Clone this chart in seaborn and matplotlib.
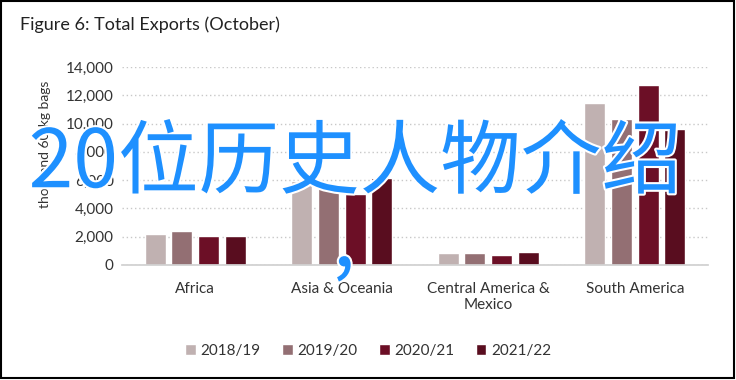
import pandas as pd
import matplotlib
matplotlib.use("Agg")
import matplotlib.pyplot as plt
import matplotlib.patheffects as pe
from matplotlib.patches import Rectangle
from matplotlib.ticker import FuncFormatter
import seaborn as sns

# data
regions = ['Africa', 'Asia & Oceania', 'Central America &\nMexico', 'South America']
seasons = ['2018/19', '2019/20', '2020/21', '2021/22']
v_2018_19 = [2200, 5950, 830, 11450]
v_2019_20 = [2400, 5500, 830, 10350]
v_2020_21 = [2050, 5050, 740, 12700]
v_2021_22 = [2050, 6150, 950, 9600]
colours = ['#c0b1b1', '#936f73', '#6c0f26', '#590d1f']

df = pd.DataFrame({
    'region': regions * 4,
    'season': [s for s in seasons for _ in regions],
    'value': v_2018_19 + v_2019_20 + v_2020_21 + v_2021_22,
})

sns.set_theme(style='white')
plt.rcParams['font.family'] = ['Lato', 'DejaVu Sans']

fig = plt.figure(figsize=(7.36, 3.80), dpi=100)
ax = fig.add_axes([122 / 736, 1 - 265 / 380, (708 - 122) / 736, (265 - 67) / 380])

sns.barplot(data=df, x='region', y='value', hue='season', palette=colours,
            width=0.73, gap=0.22, saturation=1, ax=ax, legend=True)

ax.set_ylim(0, 14000)
ax.set_yticks(range(0, 14001, 2000))
ax.yaxis.set_major_formatter(FuncFormatter(lambda v, p: f'{int(v):,}'))
ax.grid(axis='y', color='#c8c8c8', linestyle=(0, (1, 2)), linewidth=1)
ax.set_axisbelow(True)
for s in ['top', 'right', 'left']:
    ax.spines[s].set_visible(False)
ax.spines['bottom'].set_color('#d0d0d0')
ax.tick_params(axis='both', length=0, labelsize=11, colors='#333333', pad=6)
ax.tick_params(axis='x', pad=12)
ax.set_xlabel('')
ax.set_ylabel('')
fig.text(45 / 736, 1 - 144 / 380, 'thousand 60-kg bags', rotation=90,
         ha='center', va='center', fontsize=10, color='#333333')

leg = ax.legend(loc='center', bbox_to_anchor=(0.42, -0.435), ncol=4, frameon=False,
                fontsize=11, handlelength=0.7, handleheight=0.7, handletextpad=0.3,
                columnspacing=1.4)
for t in leg.get_texts():
    t.set_color('#333333')

fig.text(20 / 736, 1 - 25 / 380, 'Figure 6: Total Exports (October)', ha='left',
         va='center', fontsize=13, color='#222222')

# overlay text on the picture
fx = [pe.withStroke(linewidth=3, foreground='white')]
fig.text(355 / 736, 1 - 164 / 380, '20位历史人物介绍', ha='center', va='center',
         fontsize=58, color='#1e90ff', family=['Noto Sans CJK SC', 'DejaVu Sans'],
         path_effects=fx)
fig.text(344 / 736, 1 - 243 / 380, ',', ha='center', va='center',
         fontsize=58, color='#1e90ff', family=['Noto Sans CJK SC', 'DejaVu Sans'],
         path_effects=fx)

fig.patches.append(Rectangle((0.002, 0.004), 0.995, 0.993, transform=fig.transFigure,
                             fill=False, edgecolor='black', linewidth=1.5))

fig.savefig('out.png', dpi=100)
